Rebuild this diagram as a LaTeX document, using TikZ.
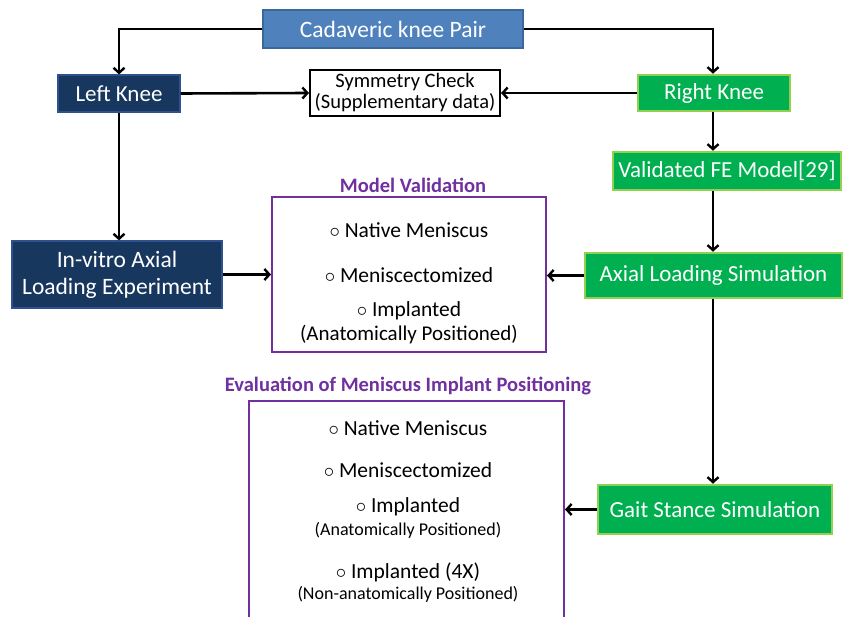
\documentclass[tikz,border=0pt]{standalone}
\usepackage{fontspec}
\setmainfont{Carlito}
\usetikzlibrary{arrows.meta}
\definecolor{topblue}{HTML}{4F81BD}
\definecolor{topblueb}{HTML}{3A679C}
\definecolor{navy}{HTML}{17375E}
\definecolor{navyb}{HTML}{2F528F}
\definecolor{grn}{HTML}{00B050}
\definecolor{grnb}{HTML}{92D050}
\definecolor{purp}{HTML}{7030A0}
\newcommand{\itm}{$\circ$\ }
\begin{document}
\begin{tikzpicture}[x=1pt,y=-1pt,
  box/.style={rectangle, inner sep=0pt, align=center},
  navybox/.style={box, fill=navy, draw=navyb, line width=1.2pt, text=white, font=\fontsize{23}{26}\selectfont},
  grnbox/.style={box, fill=grn, draw=grnb, line width=2.5pt, text=white, font=\fontsize{23}{26}\selectfont},
  ttl/.style={text=purp, font=\bfseries\fontsize{20.5}{24}\selectfont, inner sep=0pt},
  item/.style={inner sep=0pt, font=\fontsize{21.5}{24}\selectfont},
  sub/.style={inner sep=0pt, font=\fontsize{21}{24}\selectfont},
  subs/.style={inner sep=0pt, font=\fontsize{18}{21}\selectfont},
  arr/.style={line width=2.6pt, -{Straight Barb[length=5pt,width=11pt,line width=2.4pt]}}]
\clip (0,0) rectangle (849,617);
\fill[white] (0,0) rectangle (849,617);

\node[box, fill=topblue, draw=topblueb, line width=1.5pt, minimum width=260pt, minimum height=38pt, text=white, font=\fontsize{23.5}{26}\selectfont] (top) at (393,29) {Cadaveric knee Pair};

\node[navybox, minimum width=122pt, minimum height=37pt] (lk) at (119,93.5) {Left Knee};
\node[box, draw=black, line width=2pt, fill=white, minimum width=190pt, minimum height=46pt, font=\fontsize{20.5}{21}\selectfont] (sym) at (405,93) {Symmetry Check\\(Supplementary data)};
\node[grnbox, minimum width=152pt, minimum height=36pt] (rk) at (714,93) {Right Knee};
\node[grnbox, minimum width=228pt, minimum height=38pt] (val) at (727,171) {Validated FE Model[29]};

\node[ttl] (mvt) at (413,185) {Model Validation};
\node[box, draw=purp, line width=2pt, minimum width=274pt, minimum height=155pt] (mv) at (409,274.5) {};
\node[item] (mv1) at (409,230) {\itm Native Meniscus};
\node[item] (mv2) at (409,275) {\itm Meniscectomized};
\node[item] (mv3) at (409,311) {\itm Implanted};
\node[sub] (mv4) at (409,335) {(Anatomically Positioned)};

\node[navybox, minimum width=210pt, minimum height=67pt, font=\fontsize{23.5}{27}\selectfont] (iv) at (117,274.5) {In-vitro Axial\\Loading Experiment};
\node[grnbox, minimum width=257pt, minimum height=45pt] (ax) at (713.5,275.5) {Axial Loading Simulation};
\node[grnbox, minimum width=234pt, minimum height=49pt] (gait) at (715,509.5) {Gait Stance Simulation};

\node[ttl] (evt) at (408,386) {Evaluation of Meniscus Implant Positioning};
\node[box, draw=purp, line width=2pt, minimum width=315pt, minimum height=250pt, anchor=north west] (ev) at (248,400) {};
\node[item] (ev1) at (408,428) {\itm Native Meniscus};
\node[item] (ev2) at (408,470) {\itm Meniscectomized};
\node[item] (ev3) at (408,507) {\itm Implanted};
\node[subs] (ev4) at (408,530) {(Anatomically Positioned)};
\node[item] (ev5) at (408,572) {\itm Implanted (4X)};
\node[subs] (ev6) at (408,594) {(Non-anatomically Positioned)};

\draw[arr] (top.west) -| (lk.north);
\draw[arr] (top.east) -| ([xshift=-1pt]rk.north);
\draw[arr] (lk.east) -- (sym.west);
\draw[arr] (rk.west) -- (sym.east);
\draw[arr] ([xshift=-1pt]rk.south) -- ([xshift=-1pt]rk.south |- val.north);
\draw[arr] ([xshift=-1pt]rk.south |- val.south) -- ([xshift=-1pt]rk.south |- ax.north);
\draw[arr] ([xshift=-1pt]rk.south |- ax.south) -- ([xshift=-1pt]rk.south |- gait.north);
\draw[arr] (lk.south) -- (lk.south |- iv.north);
\draw[arr] (iv.east) -- (mv.west);
\draw[arr] (ax.west) -- (ax.west -| mv.east);
\draw[arr] (gait.west) -- (gait.west -| ev.east);
\end{tikzpicture}
\end{document}
